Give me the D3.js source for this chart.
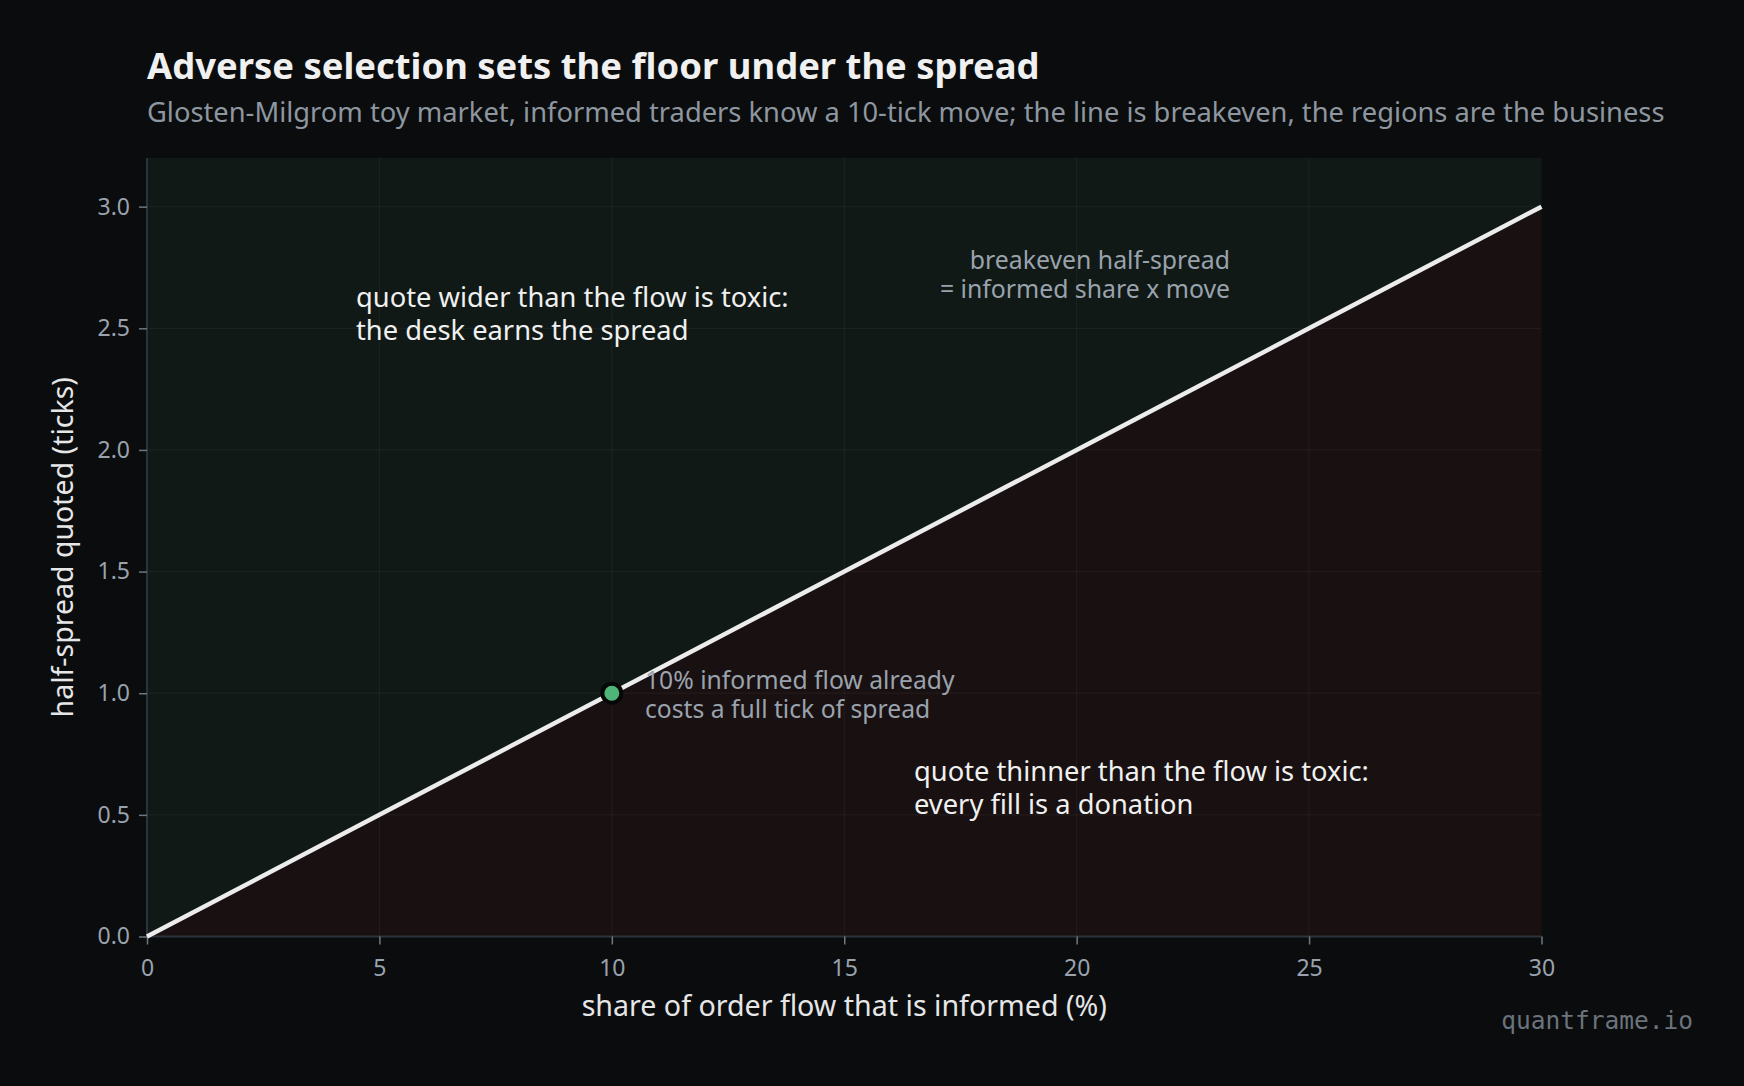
<!DOCTYPE html>
<html><head><meta charset="utf-8">
<script src="https://cdn.jsdelivr.net/npm/d3@7"></script>
<style>
html,body{margin:0;padding:0;background:#0a0c0e;}
svg{display:block;}
</style></head><body>
<svg id="c" width="1744" height="1086"></svg>
<script>
// ---- data ----
const informedShare = [0, 5, 10, 15, 20, 25, 30];      // % informed
const breakevenHalfSpread = [0, 0.5, 1.0, 1.5, 2.0, 2.5, 3.0]; // ticks
const markerPoint = {x: 10, y: 1.0};
const xTicks = [0, 5, 10, 15, 20, 25, 30];
const yTicks = [0.0, 0.5, 1.0, 1.5, 2.0, 2.5, 3.0];
const xDomain = [0, 30];
const yDomain = [0, 3.2];

const SANS = '"Segoe UI","Noto Sans","Open Sans",sans-serif';
const MONO = '"DejaVu Sans Mono","Liberation Mono",monospace';

const W = 1744, H = 1086;
const m = {left: 147, right: 1541.5, top: 158, bottom: 936.5};
const svg = d3.select("#c").style("font-family", SANS);
svg.append("rect").attr("width", W).attr("height", H).attr("fill", "#0a0c0e");

const x = d3.scaleLinear().domain(xDomain).range([m.left, m.right]);
const y = d3.scaleLinear().domain(yDomain).range([m.bottom, m.top]);

const pts = informedShare.map((v, i) => ({x: v, y: breakevenHalfSpread[i]}));

// regions
svg.append("path").datum(pts)
  .attr("d", d3.area().x(d => x(d.x)).y0(y(yDomain[1])).y1(d => y(d.y)))
  .attr("fill", "#101916");
svg.append("path").datum(pts)
  .attr("d", d3.area().x(d => x(d.x)).y0(y(0)).y1(d => y(d.y)))
  .attr("fill", "#191011");

// grid
const g = svg.append("g");
g.selectAll(".vg").data(xTicks.slice(1, -1)).enter().append("line")
  .attr("x1", d => x(d)).attr("x2", d => x(d)).attr("y1", m.top).attr("y2", m.bottom)
  .attr("stroke", "#ffffff").attr("stroke-opacity", 0.045).attr("stroke-width", 1.2);
g.selectAll(".hg").data(yTicks.slice(1)).enter().append("line")
  .attr("y1", d => y(d)).attr("y2", d => y(d)).attr("x1", m.left).attr("x2", m.right)
  .attr("stroke", "#ffffff").attr("stroke-opacity", 0.045).attr("stroke-width", 1.2);

// axes
const xAxis = svg.append("g").attr("transform", `translate(0,${m.bottom})`)
  .call(d3.axisBottom(x).tickValues(xTicks).tickFormat(d3.format("d")).tickSize(8).tickPadding(15));
const yAxis = svg.append("g").attr("transform", `translate(${m.left},0)`)
  .call(d3.axisLeft(y).tickValues(yTicks).tickFormat(d3.format(".1f")).tickSize(8).tickPadding(9));
[xAxis, yAxis].forEach(a => {
  a.attr("font-family", null).attr("font-size", null);
  a.select(".domain").attr("stroke", "#2c333b").attr("stroke-width", 2);
  a.selectAll(".tick line").attr("stroke", "#6f7882").attr("stroke-width", 1.5);
  a.selectAll(".tick text").attr("fill", "#9aa3ad").style("font-size", "23px").style("font-family", SANS);
});
xAxis.select(".domain").attr("d", `M${m.left},0H${m.right}`);
yAxis.select(".domain").attr("d", `M0,${m.top}V${m.bottom}`);

// breakeven line
svg.append("path").datum(pts)
  .attr("d", d3.line().x(d => x(d.x)).y(d => y(d.y)))
  .attr("fill", "none").attr("stroke", "#ececec").attr("stroke-width", 4.5);

// marker
svg.append("circle").attr("cx", x(markerPoint.x)).attr("cy", y(markerPoint.y)).attr("r", 9.5)
  .attr("fill", "#4fb477").attr("stroke", "#050807").attr("stroke-width", 4);

// titles
svg.append("text").attr("x", 147).attr("y", 79).attr("fill", "#f0f0f0")
  .style("font-size", "36.4px").attr("font-weight", "bold")
  .text("Adverse selection sets the floor under the spread");
svg.append("text").attr("x", 147).attr("y", 122).attr("fill", "#8e969f")
  .style("font-size", "27.3px")
  .text("Glosten-Milgrom toy market, informed traders know a 10-tick move; the line is breakeven, the regions are the business");

// axis titles
svg.append("text").attr("x", (m.left + m.right) / 2).attr("y", 1016).attr("text-anchor", "middle")
  .attr("fill", "#e6e6e6").style("font-size", "28.6px").text("share of order flow that is informed (%)");
svg.append("text").attr("transform", `translate(73,${(m.top + m.bottom) / 2}) rotate(-90)`)
  .attr("text-anchor", "middle").attr("fill", "#e6e6e6").style("font-size", "28.5px")
  .text("half-spread quoted (ticks)");

// annotations
function multi(xp, yp, lines, opts) {
  const t = svg.append("text").attr("x", xp).attr("y", yp).attr("fill", opts.fill)
    .style("font-size", opts.size + "px").attr("text-anchor", opts.anchor || "start");
  lines.forEach((l, i) => t.append("tspan").attr("x", xp).attr("dy", i ? opts.lh : 0).text(l));
}
multi(356, 307, ["quote wider than the flow is toxic:", "the desk earns the spread"], {fill: "#f0f0f0", size: 27.3, lh: 33});
multi(914, 781, ["quote thinner than the flow is toxic:", "every fill is a donation"], {fill: "#f0f0f0", size: 27.3, lh: 33});
multi(1230, 269, ["breakeven half-spread", "= informed share x move"], {fill: "#9aa3ad", size: 24.8, lh: 29, anchor: "end"});
multi(645, 689, ["10% informed flow already", "costs a full tick of spread"], {fill: "#9aa3ad", size: 24.7, lh: 29});

// watermark
svg.append("text").attr("x", 1693).attr("y", 1029).attr("text-anchor", "end")
  .attr("fill", "#6b737c").style("font-size", "24.5px").style("font-family", MONO)
  .text("quantframe.io");
</script>
</body></html>
